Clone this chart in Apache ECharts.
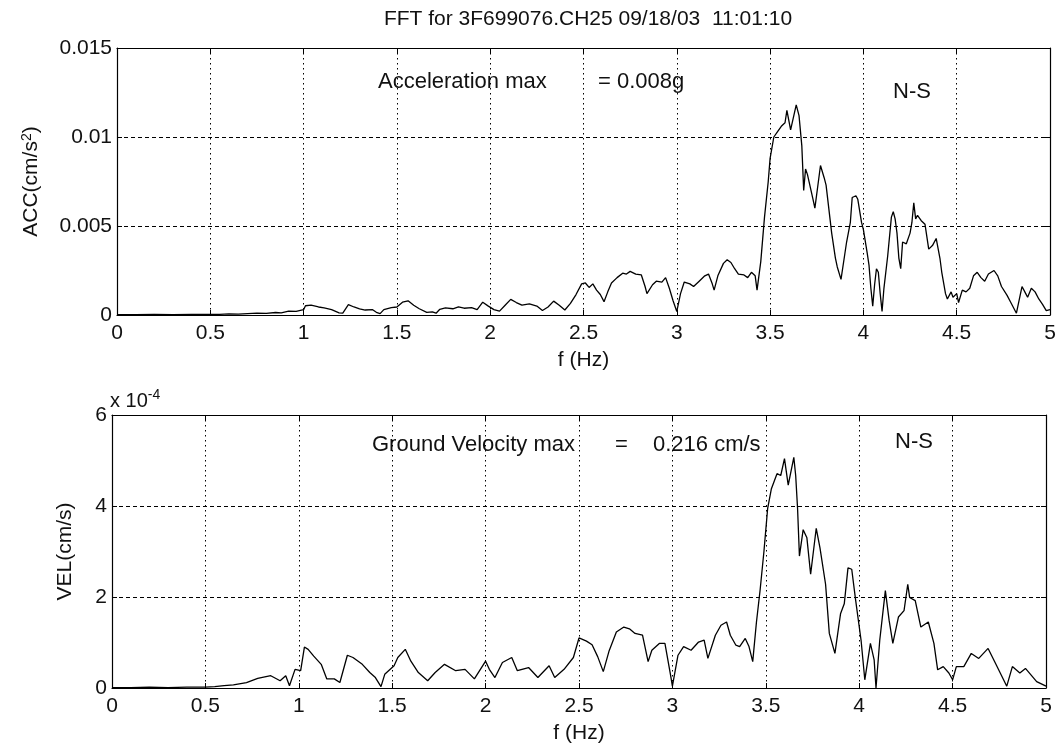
<!DOCTYPE html>
<html>
<head>
<meta charset="utf-8">
<script src="https://cdn.jsdelivr.net/npm/echarts@6/dist/echarts.min.js"></script>
<style>
html,body{margin:0;padding:0;background:#fff;}
#chart{width:1060px;height:750px;}
</style>
</head>
<body>
<div id="chart"></div>
<script>
// ---------- DATA ----------
const chartTitle = 'FFT for 3F699076.CH25 09/18/03  11:01:10';
const xTicks = [0, 0.5, 1, 1.5, 2, 2.5, 3, 3.5, 4, 4.5, 5];
const accTicks = [0, 0.005, 0.01, 0.015];
const velTicks = [0, 2, 4, 6]; // x 10^-4

// Acceleration spectrum: frequency (Hz) and amplitude (x 10^-3 cm/s^2)
const accFreq = [0.00,0.10,0.20,0.30,0.40,0.50,0.55,0.60,0.65,0.70,0.75,0.80,0.85,0.88,0.92,0.96,1.00,1.01,1.04,1.08,1.11,1.15,1.19,1.21,1.24,1.27,1.30,1.33,1.37,1.39,1.41,1.43,1.47,1.50,1.53,1.56,1.59,1.62,1.66,1.69,1.71,1.73,1.76,1.80,1.83,1.86,1.90,1.93,1.96,1.99,2.02,2.05,2.08,2.11,2.14,2.17,2.21,2.25,2.28,2.31,2.34,2.37,2.40,2.43,2.46,2.49,2.51,2.53,2.55,2.57,2.59,2.61,2.63,2.65,2.68,2.71,2.73,2.75,2.78,2.81,2.83,2.84,2.87,2.89,2.92,2.94,2.96,2.98,3.00,3.02,3.04,3.07,3.09,3.12,3.15,3.17,3.19,3.20,3.22,3.25,3.27,3.29,3.31,3.33,3.36,3.38,3.40,3.42,3.43,3.45,3.47,3.49,3.50,3.52,3.54,3.56,3.58,3.59,3.61,3.62,3.64,3.655,3.67,3.68,3.69,3.70,3.71,3.73,3.74,3.76,3.77,3.79,3.80,3.82,3.83,3.85,3.86,3.88,3.90,3.91,3.93,3.94,3.96,3.97,3.99,4.00,4.02,4.03,4.04,4.05,4.06,4.07,4.08,4.09,4.10,4.11,4.13,4.15,4.16,4.17,4.18,4.19,4.20,4.21,4.23,4.25,4.26,4.27,4.28,4.29,4.31,4.33,4.35,4.37,4.39,4.41,4.42,4.44,4.45,4.47,4.48,4.50,4.51,4.53,4.55,4.57,4.59,4.61,4.63,4.65,4.67,4.70,4.72,4.74,4.77,4.79,4.82,4.84,4.85,4.87,4.88,4.90,4.92,4.94,4.96,4.98,5.00];
const accMilli = [0.02,0.02,0.03,0.02,0.03,0.04,0.03,0.06,0.05,0.08,0.10,0.09,0.14,0.12,0.22,0.20,0.30,0.52,0.55,0.45,0.40,0.30,0.12,0.10,0.58,0.45,0.35,0.28,0.30,0.15,0.08,0.30,0.42,0.45,0.72,0.80,0.55,0.35,0.15,0.18,0.10,0.32,0.40,0.35,0.45,0.38,0.42,0.30,0.72,0.50,0.30,0.22,0.55,0.88,0.70,0.55,0.62,0.50,0.25,0.45,0.78,0.55,0.28,0.65,1.15,1.75,1.80,1.55,1.75,1.40,1.15,0.75,1.30,1.80,2.10,2.35,2.30,2.45,2.30,2.25,1.60,1.20,1.70,1.90,1.85,2.10,1.50,0.80,0.20,1.20,1.85,1.75,1.60,1.90,2.20,2.30,1.75,1.40,2.20,2.90,3.10,2.95,2.60,2.30,2.25,2.10,2.40,2.20,1.40,3.00,5.50,7.50,8.80,10.00,10.30,10.60,10.80,11.50,10.40,10.50,11.80,11.20,9.50,7.00,8.20,7.90,8.00,6.50,6.00,7.60,8.40,7.70,7.30,5.50,4.60,3.20,2.70,2.00,3.40,4.10,5.20,6.60,6.70,6.50,5.20,4.80,3.50,2.80,1.50,0.50,1.70,2.60,2.40,1.20,0.20,1.50,3.30,5.50,5.80,5.40,4.60,3.20,2.60,4.10,4.00,4.60,5.20,6.30,5.40,5.60,5.30,5.10,3.70,3.90,4.30,3.20,2.40,1.20,0.90,1.30,1.00,1.20,0.70,1.40,1.30,1.50,2.20,2.40,2.10,1.90,2.30,2.50,2.20,1.60,1.10,0.70,0.10,1.10,1.60,1.20,1.00,1.50,1.30,0.90,0.60,0.25,0.30];

// Velocity spectrum: frequency (Hz) and amplitude (x 10^-4 cm/s)
const velFreq = [0.00,0.10,0.20,0.30,0.40,0.50,0.55,0.60,0.65,0.72,0.78,0.85,0.90,0.93,0.95,0.98,1.01,1.03,1.05,1.08,1.12,1.15,1.19,1.22,1.26,1.29,1.34,1.38,1.41,1.44,1.46,1.51,1.53,1.57,1.60,1.64,1.69,1.73,1.78,1.84,1.89,1.94,2.00,2.02,2.05,2.09,2.14,2.17,2.23,2.28,2.34,2.37,2.42,2.47,2.50,2.54,2.57,2.60,2.63,2.66,2.70,2.74,2.77,2.80,2.84,2.87,2.89,2.93,2.96,2.99,3.00,3.03,3.06,3.10,3.14,3.17,3.19,3.23,3.26,3.29,3.31,3.34,3.36,3.39,3.41,3.43,3.45,3.47,3.49,3.51,3.53,3.55,3.56,3.58,3.60,3.62,3.65,3.66,3.67,3.68,3.70,3.72,3.74,3.77,3.79,3.82,3.84,3.87,3.90,3.92,3.94,3.96,3.98,4.01,4.03,4.06,4.08,4.09,4.11,4.14,4.16,4.18,4.21,4.24,4.26,4.27,4.30,4.33,4.37,4.40,4.42,4.45,4.48,4.50,4.52,4.56,4.60,4.64,4.69,4.73,4.79,4.82,4.86,4.89,4.95,5.00];
const velE4 = [0.01,0.01,0.02,0.01,0.02,0.02,0.03,0.05,0.07,0.12,0.21,0.27,0.16,0.27,0.05,0.41,0.38,0.90,0.85,0.70,0.52,0.20,0.20,0.12,0.72,0.67,0.52,0.34,0.23,0.03,0.30,0.49,0.67,0.85,0.59,0.34,0.16,0.34,0.52,0.38,0.41,0.20,0.59,0.41,0.23,0.56,0.67,0.38,0.45,0.23,0.49,0.23,0.41,0.67,1.10,1.03,0.95,0.69,0.36,0.80,1.23,1.34,1.30,1.20,1.16,0.58,0.83,0.98,0.98,0.29,0.04,0.72,0.91,0.83,1.01,1.05,0.65,1.16,1.38,1.45,1.16,0.94,0.91,1.09,0.91,0.58,1.45,2.17,3.00,3.95,4.38,4.60,4.71,4.67,5.04,4.46,5.07,4.67,3.95,2.90,3.48,3.30,2.50,3.51,3.08,2.28,1.20,0.76,1.63,1.85,2.64,2.61,1.96,1.05,0.18,0.98,0.62,0.00,1.05,2.14,1.49,0.98,1.56,1.70,2.28,1.99,1.92,1.34,1.45,0.98,0.40,0.47,0.33,0.18,0.47,0.47,0.76,0.65,0.87,0.54,0.04,0.47,0.33,0.43,0.14,0.04];

// ---------- CHART ----------
const FONT = '"Liberation Sans", Arial, sans-serif';
const chart = echarts.init(document.getElementById('chart'), null, {renderer: 'canvas'});

const accData = accFreq.map((f, i) => [f, accMilli[i] / 1000]);
const velData = velFreq.map((f, i) => [f, velE4[i]]);

const gridLineX = {show: true, lineStyle: {color: '#000', type: [1.5, 3.5], width: 1}};
const gridLineY = {show: true, lineStyle: {color: '#000', type: [4, 3], width: 1}};
const axisLineStyle = {show: true, onZero: false, lineStyle: {color: '#000', width: 1.2}};
const tickIn = {show: true, inside: true, length: 5, lineStyle: {color: '#000'}};
const labelStyle = {color: '#111', fontSize: 21, fontFamily: FONT};
const annFont = '22px ' + FONT;

function mainX(gridIndex) {
  return {
    type: 'value', gridIndex, min: 0, max: 5, interval: 0.5,
    axisLine: axisLineStyle, axisTick: tickIn,
    axisLabel: Object.assign({margin: 8, formatter: v => xTicks.includes(v) ? String(v) : ''}, labelStyle),
    splitLine: gridLineX,
    name: 'f (Hz)', nameLocation: 'middle', nameGap: 35,
    nameTextStyle: {color: '#111', fontSize: 21, fontFamily: FONT}
  };
}
function boxX(gridIndex) {
  return {
    type: 'value', gridIndex, position: 'top', min: 0, max: 5, interval: 0.5,
    axisLine: axisLineStyle, axisTick: tickIn, axisLabel: {show: false}, splitLine: {show: false}
  };
}

const option = {
  backgroundColor: '#fff',
  animation: false,
  grid: [
    {left: 117, right: 10, top: 48, height: 267},
    {left: 112, right: 14, top: 415, height: 273}
  ],
  xAxis: [mainX(0), boxX(0), mainX(1), boxX(1)],
  yAxis: [
    {
      type: 'value', gridIndex: 0, min: 0, max: 0.015, interval: 0.005,
      axisLine: axisLineStyle, axisTick: tickIn,
      axisLabel: Object.assign({margin: 5, formatter: v => accTicks.includes(+v.toFixed(3)) ? String(+v.toFixed(3)) : ''}, labelStyle),
      splitLine: gridLineY,
      name: 'ACC(cm/s{sup|2})', nameLocation: 'middle', nameRotate: 90, nameGap: 74,
      nameTextStyle: {color: '#111', fontSize: 21, fontFamily: FONT,
        rich: {sup: {fontSize: 14, fontFamily: FONT, color: '#111', verticalAlign: 'top', padding: [0, 0, 9, 0]}}}
    },
    {
      type: 'value', gridIndex: 0, position: 'right', min: 0, max: 0.015, interval: 0.005,
      axisLine: axisLineStyle, axisTick: tickIn, axisLabel: {show: false}, splitLine: {show: false}
    },
    {
      type: 'value', gridIndex: 1, min: 0, max: 6, interval: 2,
      axisLine: axisLineStyle, axisTick: tickIn,
      axisLabel: Object.assign({margin: 5, formatter: v => velTicks.includes(v) ? String(v) : ''}, labelStyle),
      splitLine: gridLineY,
      name: 'VEL(cm/s)', nameLocation: 'middle', nameRotate: 90, nameGap: 36,
      nameTextStyle: {color: '#111', fontSize: 21, fontFamily: FONT}
    },
    {
      type: 'value', gridIndex: 1, position: 'right', min: 0, max: 6, interval: 2,
      axisLine: axisLineStyle, axisTick: tickIn, axisLabel: {show: false}, splitLine: {show: false}
    }
  ],
  series: [
    {type: 'line', xAxisIndex: 0, yAxisIndex: 0, data: accData, showSymbol: false, symbol: 'none',
      lineStyle: {color: '#000', width: 1.3}, z: 5},
    {type: 'line', xAxisIndex: 2, yAxisIndex: 2, data: velData, showSymbol: false, symbol: 'none',
      lineStyle: {color: '#000', width: 1.3}, z: 5}
  ],
  graphic: [
    {type: 'text', x: 588, y: 19, style: {text: chartTitle, fill: '#111', font: '21px ' + FONT, textAlign: 'center', textVerticalAlign: 'middle'}},
    {type: 'text', x: 378, y: 82, style: {text: 'Acceleration max', fill: '#111', font: annFont, textVerticalAlign: 'middle'}},
    {type: 'text', x: 598, y: 82, style: {text: '= 0.008g', fill: '#111', font: annFont, textVerticalAlign: 'middle'}},
    {type: 'text', x: 893, y: 92, style: {text: 'N-S', fill: '#111', font: annFont, textVerticalAlign: 'middle'}},
    {type: 'text', x: 372, y: 445, style: {text: 'Ground Velocity max', fill: '#111', font: annFont, textVerticalAlign: 'middle'}},
    {type: 'text', x: 615, y: 445, style: {text: '=', fill: '#111', font: annFont, textVerticalAlign: 'middle'}},
    {type: 'text', x: 653, y: 445, style: {text: '0.216 cm/s', fill: '#111', font: annFont, textVerticalAlign: 'middle'}},
    {type: 'text', x: 895, y: 442, style: {text: 'N-S', fill: '#111', font: annFont, textVerticalAlign: 'middle'}},
    {type: 'text', x: 110, y: 401, style: {
      text: 'x 10{sup|-4}', fill: '#111', font: '20px ' + FONT, textVerticalAlign: 'middle',
      rich: {sup: {fontSize: 14, fontFamily: FONT, fill: '#111', padding: [0, 0, 12, 0]}}
    }}
  ]
};
chart.setOption(option);
</script>
</body>
</html>
